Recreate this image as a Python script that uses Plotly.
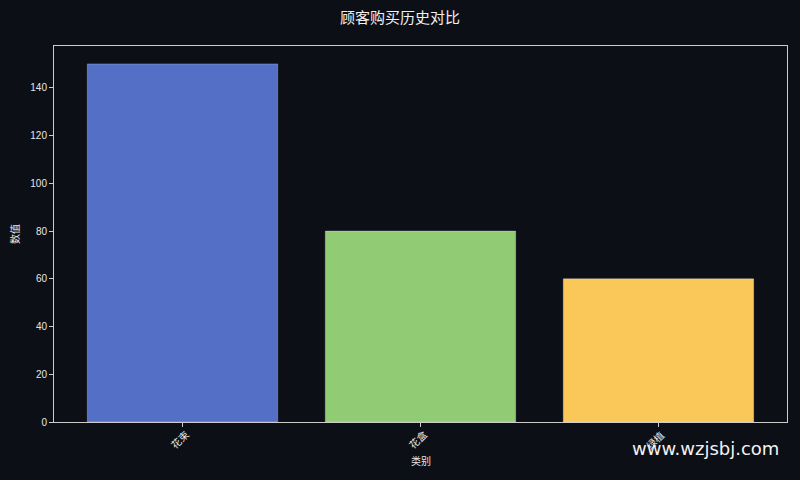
import plotly.graph_objects as go

# --- Chart data ---
categories = ["花束", "花盒", "绿植"]
values = [150, 80, 60]
bar_colors = ["#5470c6", "#91cc75", "#fac858"]
y_ticks = [0, 20, 40, 60, 80, 100, 120, 140]

BG = "#0c0f16"
FG = "#e6e6e6"
FONT = "Liberation Sans, Noto Sans CJK SC, sans-serif"

fig = go.Figure(
    go.Bar(
        x=list(range(len(categories))),
        y=values,
        width=0.8,
        marker=dict(color=bar_colors, line=dict(color="rgba(255,255,255,0.25)", width=1)),
        hoverinfo="skip",
    )
)

fig.update_layout(
    width=800,
    height=480,
    paper_bgcolor=BG,
    plot_bgcolor=BG,
    margin=dict(l=54, r=13, t=46, b=58),
    font=dict(family=FONT, color=FG, size=10),
    showlegend=False,
    title=dict(
        text="顾客购买历史对比",
        x=0.5,
        xanchor="center",
        y=1 - 18 / 480,
        yanchor="middle",
        font=dict(size=15, color="#f0f0f0"),
    ),
)

# tick labels are drawn as annotations below, so they stay centred on the tick
fig.update_xaxes(
    range=[-0.54, 2.54],
    tickvals=list(range(len(categories))),
    showticklabels=False,
    ticks="outside",
    ticklen=4,
    tickcolor="#cccccc",
    showgrid=False,
    zeroline=False,
    showline=True,
    linecolor="#cccccc",
    linewidth=1,
    mirror=True,
)

fig.update_yaxes(
    range=[0, 157.5],
    tickvals=y_ticks,
    ticks="outside",
    ticklen=4,
    tickcolor="#cccccc",
    showgrid=False,
    zeroline=False,
    showline=True,
    linecolor="#cccccc",
    linewidth=1,
    mirror=True,
    title=dict(text="数值", font=dict(size=10), standoff=8),
)

for i, cat in enumerate(categories):
    fig.add_annotation(
        text=cat,
        x=i,
        xref="x",
        yref="paper",
        y=-0.048,
        textangle=-45,
        xanchor="center",
        yanchor="middle",
        xshift=-3,
        showarrow=False,
        font=dict(size=10, color=FG),
    )

fig.add_annotation(
    text="类别",
    x=0.5,
    xref="paper",
    yref="paper",
    y=-0.104,
    xanchor="center",
    yanchor="middle",
    showarrow=False,
    font=dict(size=10, color=FG),
)

# watermark
fig.add_annotation(
    text="www.wzjsbj.com",
    xref="paper",
    yref="paper",
    x=0.992,
    y=-0.07,
    xanchor="right",
    yanchor="middle",
    showarrow=False,
    font=dict(size=18, color="#f2f2f2", family="DejaVu Sans, sans-serif"),
)

# drop the default page margin so the figure sits at 0,0
fig.write_html(
    "out.html",
    config={"displayModeBar": False},
    post_script="document.body.style.margin='0';document.body.style.background='#0c0f16';",
)
